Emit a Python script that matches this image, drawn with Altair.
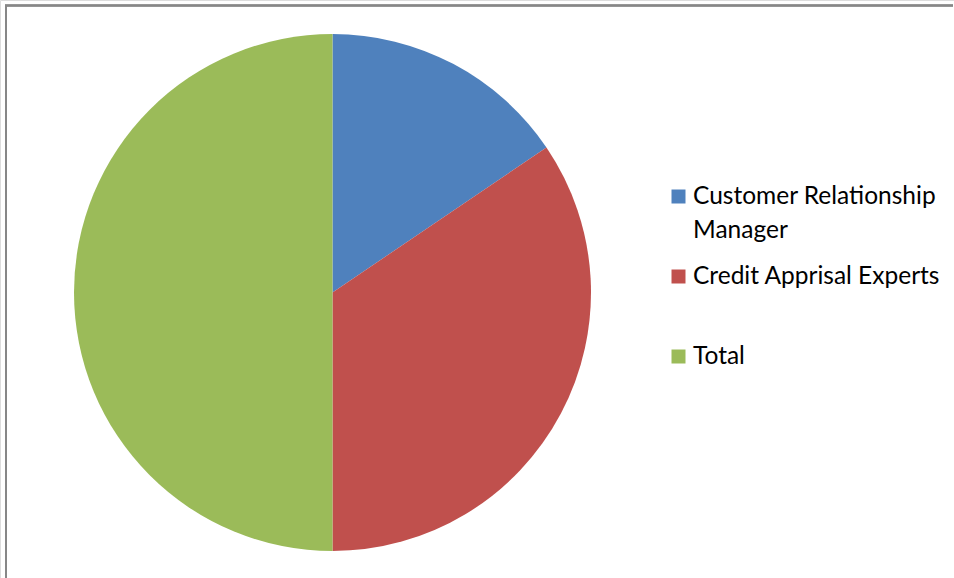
import altair as alt
import pandas as pd

categories = ["Customer Relationship Manager", "Credit Apprisal Experts", "Total"]
legend_labels = ["Customer Relationship\nManager", "Credit Apprisal Experts", "Total"]
values = [9, 20, 29]
colors = ["#4F81BD", "#C0504D", "#9BBB59"]

df = pd.DataFrame({
    "category": categories,
    "label": legend_labels,
    "value": values,
    "order": list(range(len(categories))),
})
# legend row positions (layout only)
df["sym_y"] = [196.5 + 80 * i for i in range(len(categories))]
df["txt_y"] = [204 + 80 * i for i in range(len(categories))]

color = alt.Color("category:N", scale=alt.Scale(domain=categories, range=colors), legend=None)

pie = alt.Chart(df).mark_arc(radius=258.5).encode(
    theta=alt.Theta("value:Q", stack=True),
    order=alt.Order("order:Q"),
    color=color,
    x=alt.value(332.5),
    y=alt.value(292.5),
)

squares = alt.Chart(df).mark_square(size=196, opacity=1).encode(
    x=alt.value(678.5),
    y=alt.Y("sym_y:Q", scale=None),
    color=color,
)

texts = alt.Chart(df).mark_text(
    align="left", baseline="alphabetic", font="Lato", fontSize=24.5,
    lineBreak="\n", lineHeight=34, color="#000000"
).encode(
    x=alt.value(693),
    y=alt.Y("txt_y:Q", scale=None),
    text="label:N",
)

border_top = alt.Chart(df).mark_rule(color="#878787", strokeWidth=2).encode(
    x=alt.value(5), x2=alt.value(953), y=alt.value(5.5)
)
border_left = alt.Chart(df).mark_rule(color="#878787", strokeWidth=2).encode(
    x=alt.value(6), y=alt.value(5), y2=alt.value(578)
)

chart = alt.layer(border_top, border_left, pie, squares, texts).properties(
    width=954, height=578, autosize=alt.AutoSizeParams(type="none"), padding=0
).configure_view(stroke="transparent", strokeWidth=0).configure(background="white")

chart.save("out.html", embed_options={"renderer": "svg", "actions": False})
